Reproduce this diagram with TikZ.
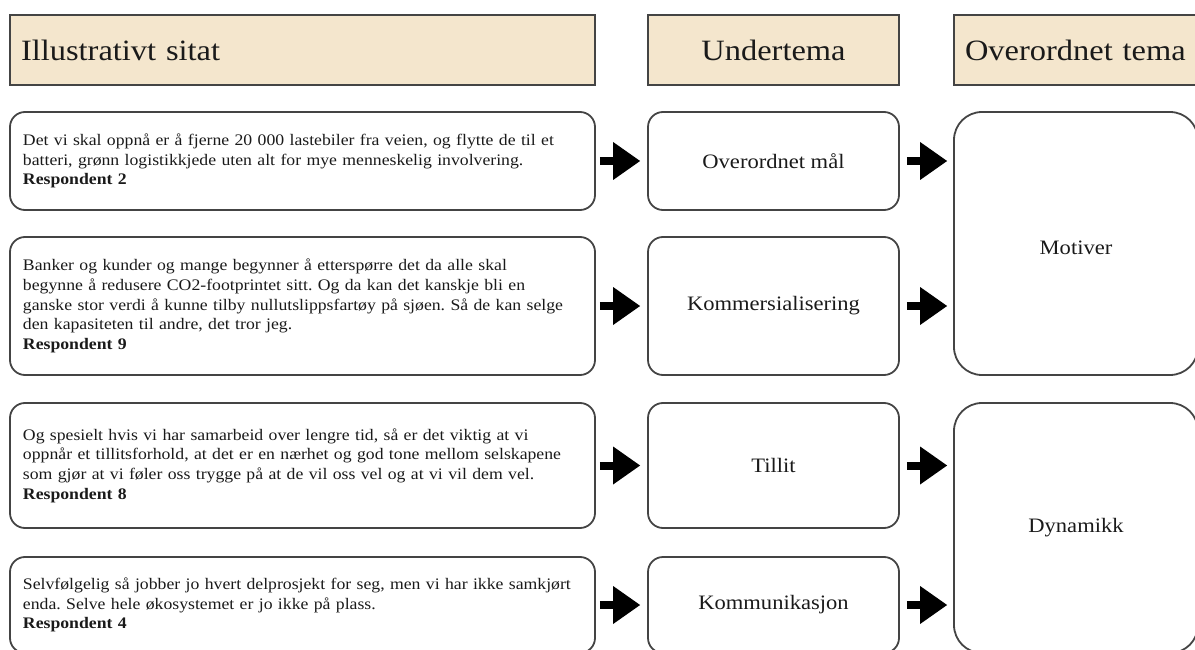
\documentclass[tikz,border=0pt]{standalone}
\usepackage{fontspec}
\setmainfont[FakeStretch=1.1]{Liberation Serif}
\usetikzlibrary{arrows.meta}
\definecolor{hdrfill}{HTML}{F4E6CD}
\definecolor{edge}{HTML}{444444}
\definecolor{ink}{HTML}{1A1A1A}
\tikzset{
  hdr/.style={draw=edge, line width=2.4pt, fill=hdrfill, text=ink, inner xsep=11pt, inner ysep=0pt,
    font=\fontsize{29.5}{33}\selectfont},
  quote/.style={draw=edge, line width=1.8pt, rounded corners=15pt, minimum width=585pt, text width=559pt,
    align=left, inner xsep=13pt, text=ink, font=\fontsize{16.1}{19.6}\selectfont\frenchspacing},
  sub/.style={draw=edge, line width=1.8pt, rounded corners=15pt, minimum width=251pt, text=ink,
    font=\fontsize{20.5}{24}\selectfont},
  top/.style={draw=edge, line width=1.8pt, rounded corners=28pt, minimum width=244pt, text=ink,
    font=\fontsize{20.5}{24}\selectfont},
  blockarrow/.style={line width=8pt, draw=black, -{Triangle[length=27pt,width=38pt,line width=0pt]}}
}
\begin{document}
\begin{tikzpicture}[x=1pt,y=-1pt]
\useasboundingbox (0,0) rectangle (1195,650);
\clip (0,0) rectangle (1195,650);
% headers
\node[hdr, minimum width=585pt, minimum height=70pt, text width=563pt, align=left] (h1) at (302.5,50) {Illustrativt sitat};
\node[hdr, minimum width=251pt, minimum height=70pt] (h2) at (773.5,50) {Undertema};
\node[hdr, minimum width=250pt, minimum height=70pt, text width=228pt, align=left] (h3) at (1079,50) {Overordnet tema};
% quotes
\node[quote, minimum height=98pt] (q1) at (302.5,161) {Det vi skal oppnå er å fjerne 20 000 lastebiler fra veien, og flytte de til et\\batteri, grønn logistikkjede uten alt for mye menneskelig involvering.\\\textbf{Respondent 2}};
\node[quote, minimum height=138pt] (q2) at (302.5,306) {Banker og kunder og mange begynner å etterspørre det da alle skal\\begynne å redusere CO2-footprintet sitt. Og da kan det kanskje bli en\\ganske stor verdi å kunne tilby nullutslippsfartøy på sjøen. Så de kan selge\\den kapasiteten til andre, det tror jeg.\\\textbf{Respondent 9}};
\node[quote, minimum height=125pt] (q3) at (302.5,465.5) {Og spesielt hvis vi har samarbeid over lengre tid, så er det viktig at vi\\oppnår et tillitsforhold, at det er en nærhet og god tone mellom selskapene\\som gjør at vi føler oss trygge på at de vil oss vel og at vi vil dem vel.\\\textbf{Respondent 8}};
\node[quote, minimum height=96pt] (q4) at (302.5,605) {Selvfølgelig så jobber jo hvert delprosjekt for seg, men vi har ikke samkjørt\\enda. Selve hele økosystemet er jo ikke på plass.\\\textbf{Respondent 4}};
% sub themes
\node[sub, minimum height=98pt] (u1) at (773.5,161) {Overordnet mål};
\node[sub, minimum height=138pt] (u2) at (773.5,306) {Kommersialisering};
\node[sub, minimum height=125pt] (u3) at (773.5,465.5) {Tillit};
\node[sub, minimum height=96pt] (u4) at (773.5,605) {Kommunikasjon};
% top themes
\node[top, minimum height=263pt, text height=27pt, text depth=5pt] (o1) at (1076,243.5) {Motiver};
\node[top, minimum height=250pt] (o2) at (1076,528) {Dynamikk};
% arrows
\foreach \i in {1,2,3,4}{
  \draw[blockarrow, shorten <=4pt, shorten >=7pt] (q\i.east) -- (u\i.west);
}
\draw[blockarrow, shorten <=7pt, shorten >=6pt] (u1.east) -- (u1.east -| o1.west);
\draw[blockarrow, shorten <=7pt, shorten >=6pt] (u2.east) -- (u2.east -| o1.west);
\draw[blockarrow, shorten <=7pt, shorten >=6pt] (u3.east) -- (u3.east -| o2.west);
\draw[blockarrow, shorten <=7pt, shorten >=6pt] (u4.east) -- (u4.east -| o2.west);
\end{tikzpicture}
\end{document}
